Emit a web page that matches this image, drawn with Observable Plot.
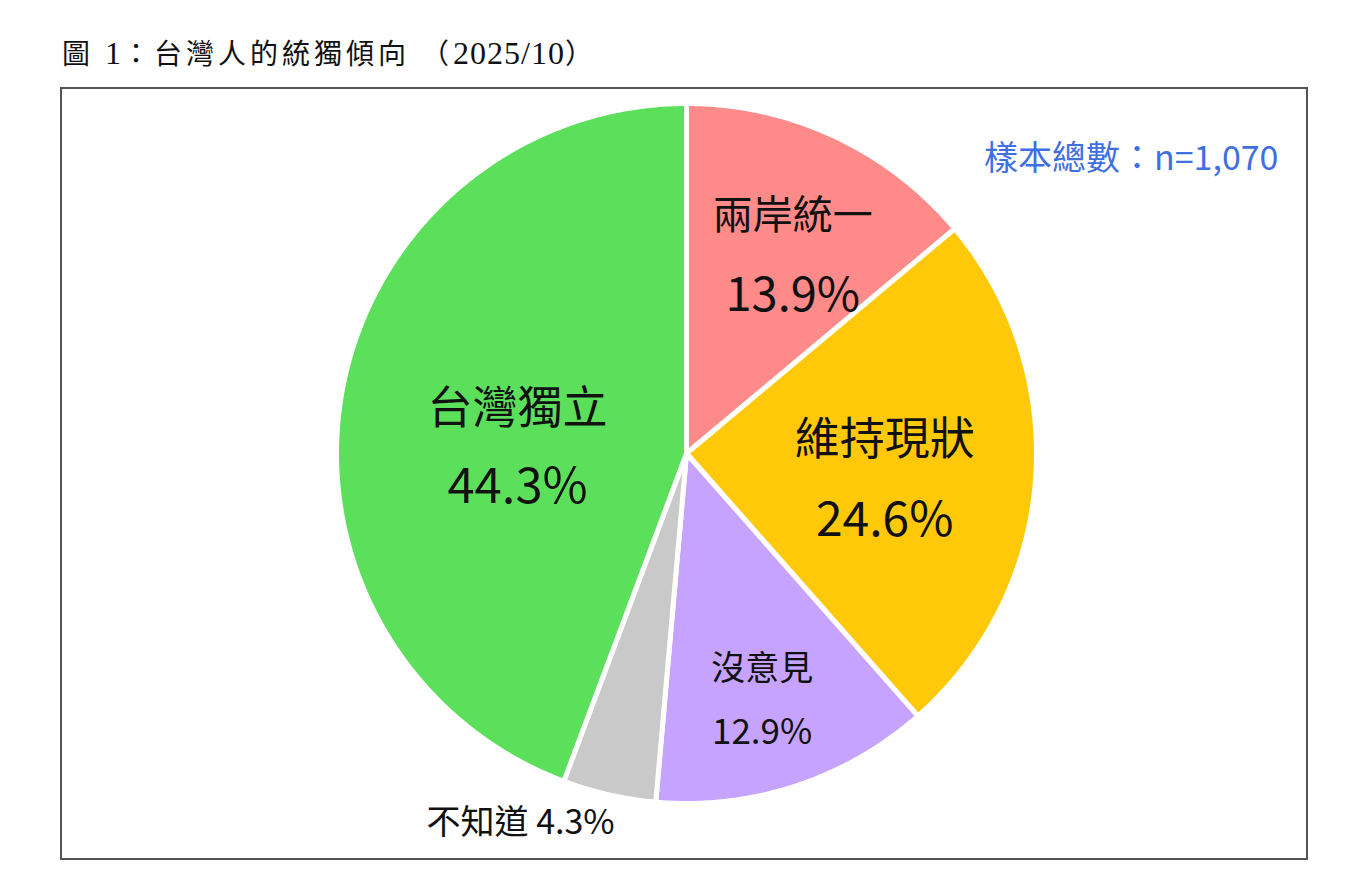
<!DOCTYPE html>
<html><head><meta charset="utf-8">
<script src="https://cdn.jsdelivr.net/npm/d3@7"></script>
<script src="https://cdn.jsdelivr.net/npm/@observablehq/plot@0.6"></script>
<style>
body{margin:0;background:#fff;width:1364px;height:869px;position:relative;overflow:hidden;font-family:"Noto Sans CJK TC","Noto Sans",sans-serif}
#title{position:absolute;left:62px;top:32px;font-family:"Liberation Serif","Noto Sans CJK TC",serif;font-size:28px;color:#111;white-space:pre;letter-spacing:4px}
#title .num{font-size:32px;letter-spacing:1px}
#box{position:absolute;left:60px;top:87px;width:1244px;height:769px;border:2px solid #555;}
#box svg{display:block}
</style>
</head><body>
<div id="title">圖 <span class="num">1</span>：台灣人的統獨傾向 （<span class="num">2025/10</span>）</div>
<div id="box"></div>
<script>
// ---- data ----
const categories = ["兩岸統一", "維持現狀", "沒意見", "不知道", "台灣獨立"];
const values = [13.9, 24.6, 12.9, 4.3, 44.3];
const colors = ["#FF8A8A", "#FFC90A", "#C6A3FF", "#C9C9C9", "#5CE05C"];
const sampleNote = "樣本總數：n=1,070";

// ---- layout (not data) ----
const W = 1244, H = 769;
const cx = 624, cy = 364;      // pie centre inside the box (px)
const R = 350;
// per-label [radius, angle tweak (deg), name font size, pct font size, line gap]
const labelLayout = [[224, 3.3, 40, 47, 40], [200, 3.5, 45, 48, 40], [259, 1.2, 34, 35, 32], [405, 11.4, 34, 34, 0], [169, -8.6, 45, 49, 39]];

const pie = d3.pie().sort(null).value(d => d.value)(categories.map((c, i) => ({name: c, value: values[i]})));

// polygon points for each slice (centre -> arc -> centre)
const pts = [];
pie.forEach(p => {
  const n = Math.max(4, Math.ceil((p.endAngle - p.startAngle) / 0.01));
  pts.push({name: p.data.name, x: 0, y: 0});
  for (let k = 0; k <= n; k++) {
    const a = p.startAngle + (p.endAngle - p.startAngle) * k / n;
    pts.push({name: p.data.name, x: R * Math.sin(a), y: R * Math.cos(a)});
  }
});

const labels = [];
pie.forEach((p, i) => {
  const [r, tw, fsName, fsPct, gap] = labelLayout[i];
  const a = (p.startAngle + p.endAngle) / 2 + tw * Math.PI / 180;
  const x = r * Math.sin(a), y = r * Math.cos(a);
  const pct = p.data.value.toFixed(1) + "%";
  if (gap === 0) labels.push({x, y, text: p.data.name + " " + pct, fs: fsName});
  else {
    labels.push({x, y: y + gap, text: p.data.name, fs: fsName});
    labels.push({x, y: y - gap, text: pct, fs: fsPct});
  }
});

const font = '"Noto Sans CJK TC","Noto Sans",sans-serif';
const chart = Plot.plot({
  width: W, height: H,
  margin: 0,
  x: {domain: [-cx, W - cx], axis: null},
  y: {domain: [-(H - cy), cy], axis: null},
  color: {domain: categories, range: colors},
  style: {background: "transparent", fontFamily: font},
  marks: [
    Plot.line(pts, {x: "x", y: "y", z: "name", fill: "name", stroke: "white", strokeWidth: 5, strokeLinejoin: "round", curve: "linear-closed"}),
    ...labels.map(d => Plot.text([d], {x: "x", y: "y", text: "text", fontSize: d.fs, fontWeight: 400, fill: "#111", fontFamily: font})),
    Plot.text([sampleNote], {frameAnchor: "top-right", dx: -28, dy: 56, text: d => d, fontSize: 34, fontWeight: 400, fill: "#3F6FE0", fontFamily: font, letterSpacing: 1.5})
  ]
});
document.getElementById("box").appendChild(chart);
</script>
</body></html>
